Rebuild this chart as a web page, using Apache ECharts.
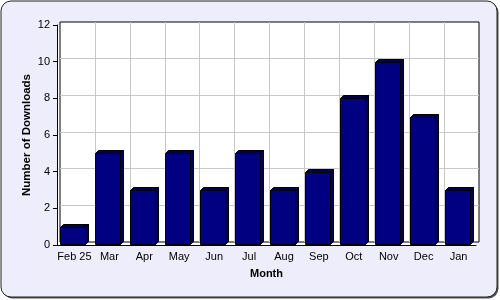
<!DOCTYPE html>
<html><head><meta charset="utf-8">
<script src="https://cdn.jsdelivr.net/npm/echarts@6/dist/echarts.min.js"></script>
<style>html,body{margin:0;padding:0;background:#fff}#c{width:500px;height:300px}</style>
</head><body><div id="c"></div>
<script>
const months = ['Feb 25','Mar','Apr','May','Jun','Jul','Aug','Sep','Oct','Nov','Dec','Jan'];
const downloads = [1,5,3,5,3,5,3,4,8,10,7,3];
const yTicks = [0,2,4,6,8,10,12];

const chart = echarts.init(document.getElementById('c'), null, {renderer:'canvas'});
const D = 3; // 3D depth in px
const font = 'Arial, "Liberation Sans", sans-serif';

chart.setOption({
  animation:false,
  graphic:[
    {type:'rect', z:-10, shape:{x:2.5,y:2.5,width:496,height:296,r:10}, style:{fill:'#555'}},
    {type:'rect', z:-9, shape:{x:1,y:1,width:496,height:296,r:10}, style:{fill:'#ededfb', stroke:'#222', lineWidth:1}}
  ],
  grid:[
    {left:57, right:24, top:25, bottom:55, show:true, backgroundColor:'#ffffff', borderWidth:0},
    {left:60, right:21, top:22, bottom:58, show:true, backgroundColor:'#ffffff', borderColor:'#000', borderWidth:1}
  ],
  xAxis:[
    {type:'category', gridIndex:0, data:months, boundaryGap:true,
     axisLine:{lineStyle:{color:'#000',width:1}},
     axisTick:{alignWithLabel:true, interval:0, length:4, lineStyle:{color:'#000'}},
     axisLabel:{color:'#000', fontSize:11, fontFamily:font, margin:6, interval:0},
     splitLine:{show:false},
     name:'Month', nameLocation:'middle', nameGap:23,
     nameTextStyle:{color:'#000', fontSize:11, fontWeight:'bold', fontFamily:font}},
    {type:'value', gridIndex:1, min:-0.5, max:months.length-0.5, interval:1,
     axisLine:{show:false}, axisTick:{show:false}, axisLabel:{show:false},
     splitLine:{show:true, showMinLine:false, showMaxLine:false, lineStyle:{color:'#c8c8c8', width:1}}}
  ],
  yAxis:[
    {type:'value', gridIndex:0, min:yTicks[0], max:yTicks[yTicks.length-1], interval:2,
     axisLine:{show:true, lineStyle:{color:'#000',width:1}},
     axisTick:{show:true, length:4, lineStyle:{color:'#000'}},
     axisLabel:{color:'#000', fontSize:11, fontFamily:font, margin:7},
     splitLine:{show:false},
     name:'Number of Downloads', nameLocation:'middle', nameGap:24, nameMoveOverlap:false,
     nameTextStyle:{color:'#000', fontSize:11.5, fontWeight:'bold', fontFamily:font}},
    {type:'value', gridIndex:1, min:yTicks[0], max:yTicks[yTicks.length-1], interval:2,
     axisLine:{show:false}, axisTick:{show:false}, axisLabel:{show:false},
     splitLine:{show:true, showMinLine:false, showMaxLine:false, lineStyle:{color:'#c8c8c8', width:1}}}
  ],
  series:[{
    type:'custom', xAxisIndex:0, yAxisIndex:0, z:5,
    data: downloads.map((v,i)=>[i,v]),
    renderItem:function(params, api){
      const i = api.value(0), v = api.value(1);
      const top = api.coord([i, v]);
      const base = api.coord([i, 0]);
      const w = 25;
      const x0 = Math.round(top[0] - 14) + 0.5, x1 = x0 + w;
      const yT = Math.round(top[1]) + 0.5, yB = Math.round(base[1]) - 0.5;
      return {type:'group', children:[
        {type:'polygon', shape:{points:[[x0,yT],[x0+D,yT-D],[x1+D,yT-D],[x1,yT]]},
         style:{fill:'#000050', stroke:'#000', lineWidth:1}},
        {type:'polygon', shape:{points:[[x1,yT],[x1+D,yT-D],[x1+D,yB-D],[x1,yB]]},
         style:{fill:'#000060', stroke:'#000', lineWidth:1}},
        {type:'rect', shape:{x:x0, y:yT, width:w, height:yB-yT},
         style:{fill:'#000080', stroke:'#000', lineWidth:1}}
      ]};
    }
  }]
});
</script></body></html>
